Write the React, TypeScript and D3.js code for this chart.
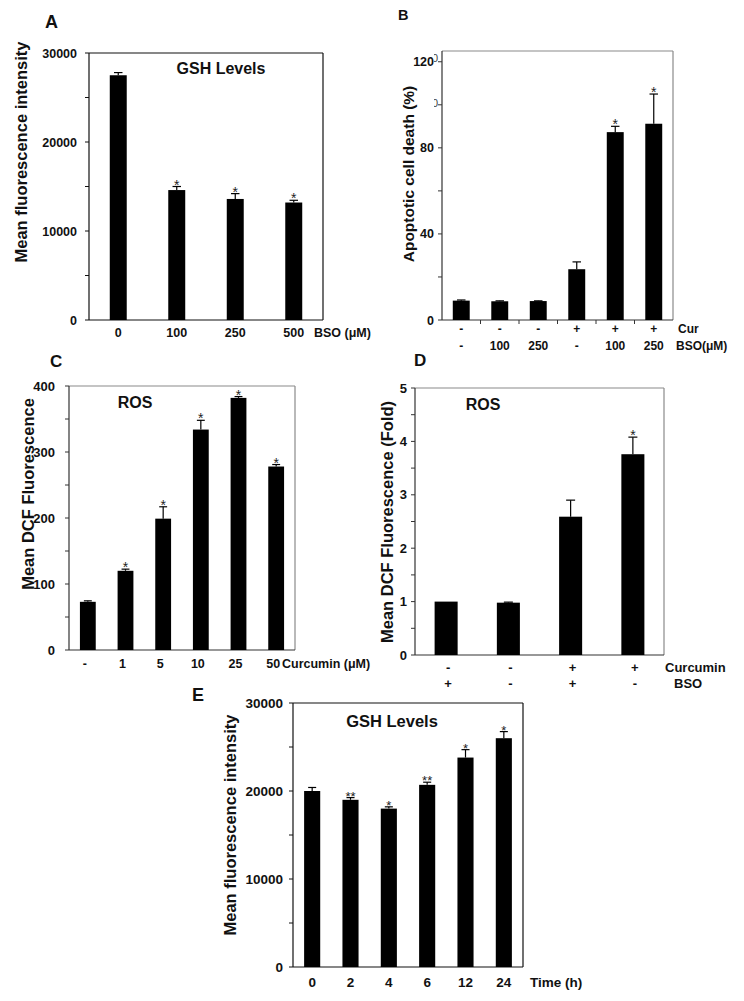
import React from "react";
import * as d3 from "d3";

// ---------- DATA ----------
const aCategories = ["0", "100", "250", "500"];
const aValues = [27500, 14600, 13600, 13200];
const aErrors = [300, 400, 600, 250];
const aStars = ["", "*", "*", "*"];
const aTicks = [0, 10000, 20000, 30000];

const bCur = ["-", "-", "-", "+", "+", "+"];
const bBso = ["-", "100", "250", "-", "100", "250"];
const bValues = [9.0, 8.7, 8.8, 23.6, 87.3, 91.2];
const bErrors = [0.3, 0.2, 0.1, 3.4, 2.7, 13.8];
const bStars = ["", "", "", "", "*", "*"];
const bTicks = [0, 40, 80, 120];

const cCategories = ["-", "1", "5", "10", "25", "50"];
const cValues = [73, 120, 199, 334, 382, 278];
const cErrors = [1.5, 2.5, 18, 14, 2, 3];
const cStars = ["", "*", "*", "*", "*", "*"];
const cTicks = [0, 100, 200, 300, 400];

const dCurcumin = ["-", "-", "+", "+"];
const dBso = ["+", "-", "+", "-"];
const dValues = [1.0, 0.98, 2.59, 3.76];
const dErrors = [0.0, 0.01, 0.31, 0.32];
const dStars = ["", "", "", "*"];
const dTicks = [0, 1, 2, 3, 4, 5];

const eCategories = ["0", "2", "4", "6", "12", "24"];
const eValues = [20000, 19000, 18000, 20700, 23800, 26000];
const eErrors = [400, 250, 200, 300, 900, 750];
const eStars = ["", "**", "*", "**", "*", "*"];
const eTicks = [0, 10000, 20000, 30000];

const FONT = "'Liberation Sans', Arial, Helvetica, sans-serif";

type Row = { labels: string[]; baseline: number; title: string; titleX: number };
type Cfg = {
  x0: number; x1: number; y0: number; y1: number;
  yMax: number; ticks: number[]; minorStep: number;
  tickRight: number; tickFont: number;
  values: number[]; errors: number[]; stars: string[];
  padding: number; catFont: number; catDx: number; rows: Row[];
  topColor: string; axisColor: string;
  starFont: number;
  title?: string; titleX?: number; titleY?: number; titleFont?: number;
  yLabel: string; yLabelX: number; yLabelY: number; yLabelFont: number;
  letter: string; letterX: number; letterY: number; letterFont: number;
};

function Panel({ c }: { c: Cfg }) {
  const n = c.values.length;
  const x = d3.scaleBand<number>()
    .domain(d3.range(n))
    .range([c.x0, c.x1])
    .paddingInner(c.padding)
    .paddingOuter(c.padding / 2);
  const y = d3.scaleLinear().domain([0, c.yMax]).range([c.y1, c.y0]);
  const minor = d3.range(0, c.yMax + 1e-9, c.minorStep);
  const bw = x.bandwidth();
  const cap = Math.min(9, bw * 0.5);
  return (
    <g fontFamily={FONT}>
      <line x1={c.x0} x2={c.x1} y1={c.y0} y2={c.y0} stroke={c.topColor} strokeWidth={1.2} />
      <line x1={c.x1} x2={c.x1} y1={c.y0} y2={c.y1} stroke={c.topColor} strokeWidth={1.2} />
      <line x1={c.x0} x2={c.x0} y1={c.y0} y2={c.y1} stroke={c.axisColor} strokeWidth={1.2} />
      <line x1={c.x0} x2={c.x1} y1={c.y1} y2={c.y1} stroke={c.axisColor} strokeWidth={1.2} />
      {minor.map((t, i) => (
        <line key={"m" + i} x1={c.x0 - 4} x2={c.x0} y1={y(t)} y2={y(t)} stroke={c.axisColor} strokeWidth={1} />
      ))}
      {c.ticks.map((t, i) => (
        <text key={"t" + i} x={c.tickRight} y={y(t) + c.tickFont * 0.36} textAnchor="end"
          fontSize={c.tickFont} fontWeight="bold" fill="#111">{t}</text>
      ))}
      {c.values.map((v, i) => {
        const cx = (x(i) as number) + bw / 2;
        const top = y(v + c.errors[i]);
        return (
          <g key={"b" + i}>
            {c.errors[i] > 0 && (
              <g stroke="#000" strokeWidth={1.2}>
                <line x1={cx} x2={cx} y1={y(v)} y2={top} />
                <line x1={cx - cap / 2} x2={cx + cap / 2} y1={top} y2={top} />
              </g>
            )}
            <rect x={x(i)} y={y(v)} width={bw} height={c.y1 - y(v)} fill="#000" />
            {c.stars[i] && (
              <text x={cx} y={top + 3} textAnchor="middle" fontSize={c.starFont} fill="#222">{c.stars[i]}</text>
            )}
          </g>
        );
      })}
      {c.rows.map((r, ri) => (
        <g key={"r" + ri}>
          {r.labels.map((l, i) => (
            <text key={i} x={(x(i) as number) + bw / 2 + c.catDx} y={r.baseline} textAnchor="middle"
              fontSize={c.catFont} fontWeight="bold" fill="#111">{l}</text>
          ))}
          <text x={r.titleX} y={r.baseline} fontSize={c.catFont} fontWeight="bold" fill="#111">{r.title}</text>
        </g>
      ))}
      {c.title && (
        <text x={c.titleX} y={c.titleY} textAnchor="middle" fontSize={c.titleFont} fontWeight="bold" fill="#111">{c.title}</text>
      )}
      <text transform={`translate(${c.yLabelX},${c.yLabelY}) rotate(-90)`} textAnchor="middle"
        fontSize={c.yLabelFont} fontWeight="bold" fill="#111">{c.yLabel}</text>
      <text x={c.letterX} y={c.letterY} fontSize={c.letterFont} fontWeight="bold" fill="#111">{c.letter}</text>
    </g>
  );
}

const panelA: Cfg = {
  x0: 89, x1: 323, y0: 53, y1: 320, yMax: 30000, ticks: aTicks, minorStep: 5000,
  tickRight: 77, tickFont: 12.5, values: aValues, errors: aErrors, stars: aStars,
  padding: 0.71, catFont: 12.5, catDx: 0,
  rows: [{ labels: aCategories, baseline: 337, title: "BSO (μM)", titleX: 314 }],
  topColor: "#111", axisColor: "#111", starFont: 14,
  title: "GSH Levels", titleX: 221, titleY: 74, titleFont: 16,
  yLabel: "Mean fluorescence intensity", yLabelX: 27, yLabelY: 152, yLabelFont: 16.5,
  letter: "A", letterX: 45, letterY: 28, letterFont: 18,
};

const panelB: Cfg = {
  x0: 442, x1: 673, y0: 51, y1: 320, yMax: 125, ticks: bTicks, minorStep: 20,
  tickRight: 434, tickFont: 12.5, values: bValues, errors: bErrors, stars: bStars,
  padding: 0.56, catFont: 12, catDx: 0,
  rows: [
    { labels: bCur, baseline: 333, title: "Cur", titleX: 678 },
    { labels: bBso, baseline: 350, title: "BSO(μM)", titleX: 676 },
  ],
  topColor: "#8a8a8a", axisColor: "#333", starFont: 14,
  yLabel: "Apoptotic cell death (%)", yLabelX: 414, yLabelY: 174, yLabelFont: 15.5,
  letter: "B", letterX: 398, letterY: 20, letterFont: 14.5,
};

const panelC: Cfg = {
  x0: 69, x1: 295, y0: 386, y1: 650, yMax: 400, ticks: cTicks, minorStep: 50,
  tickRight: 55, tickFont: 13, values: cValues, errors: cErrors, stars: cStars,
  padding: 0.58, catFont: 12.5, catDx: -3,
  rows: [{ labels: cCategories, baseline: 668, title: "Curcumin (μM)", titleX: 282 }],
  topColor: "#8a8a8a", axisColor: "#333", starFont: 14,
  title: "ROS", titleX: 135, titleY: 408, titleFont: 16,
  yLabel: "Mean DCF Fluorescence", yLabelX: 34, yLabelY: 494, yLabelFont: 16.5,
  letter: "C", letterX: 50, letterY: 367, letterFont: 17,
};

const panelD: Cfg = {
  x0: 415, x1: 664, y0: 388, y1: 655, yMax: 5, ticks: dTicks, minorStep: 0.5,
  tickRight: 407, tickFont: 13, values: dValues, errors: dErrors, stars: dStars,
  padding: 0.63, catFont: 13, catDx: 2,
  rows: [
    { labels: dCurcumin, baseline: 672, title: "Curcumin", titleX: 665 },
    { labels: dBso, baseline: 688, title: "BSO", titleX: 674 },
  ],
  topColor: "#8a8a8a", axisColor: "#333", starFont: 14,
  title: "ROS", titleX: 483, titleY: 410, titleFont: 16,
  yLabel: "Mean DCF Fluorescence (Fold)", yLabelX: 393, yLabelY: 522, yLabelFont: 16.5,
  letter: "D", letterX: 414, letterY: 366, letterFont: 17,
};

const panelE: Cfg = {
  x0: 293, x1: 523, y0: 703, y1: 967, yMax: 30000, ticks: eTicks, minorStep: 5000,
  tickRight: 283, tickFont: 13.5, values: eValues, errors: eErrors, stars: eStars,
  padding: 0.58, catFont: 13.5, catDx: 0,
  rows: [{ labels: eCategories, baseline: 987, title: "Time (h)", titleX: 530 }],
  topColor: "#111", axisColor: "#111", starFont: 13,
  title: "GSH Levels", titleX: 392, titleY: 727, titleFont: 16.5,
  yLabel: "Mean fluorescence intensity", yLabelX: 236, yLabelY: 825, yLabelFont: 16.5,
  letter: "E", letterX: 192, letterY: 701, letterFont: 18,
};

export default function App() {
  const bx = d3.scaleBand<number>().domain(d3.range(bValues.length)).range([panelB.x0, panelB.x1]);
  return (
    <svg width={744} height={1001} style={{ position: "absolute", left: 0, top: 0, background: "#fff" }}>
      <rect width={744} height={1001} fill="#fff" />
      <Panel c={panelA} />
      <Panel c={panelB} />
      <Panel c={panelC} />
      <Panel c={panelD} />
      <Panel c={panelE} />
      {d3.range(1, bValues.length).map((i) => (
        <line key={i} x1={bx(i)} x2={bx(i)} y1={panelB.y1} y2={panelB.y1 + 4} stroke="#333" strokeWidth={1} />
      ))}
      <defs>
        <clipPath id="ghost">
          <rect x={434} y={40} width={7} height={80} />
        </clipPath>
      </defs>
      <g clipPath="url(#ghost)" fontFamily={FONT} fontSize={11} fill="#444">
        <text x={432} y={62}>0</text>
        <text x={432} y={107}>0</text>
      </g>
    </svg>
  );
}
